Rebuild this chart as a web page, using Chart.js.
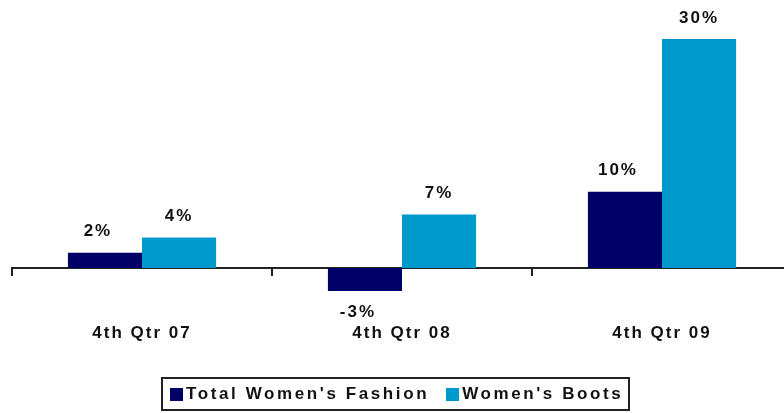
<!DOCTYPE html>
<html>
<head>
<meta charset="utf-8">
<script src="https://cdn.jsdelivr.net/npm/chart.js@4"></script>
<style>
  html, body { margin: 0; padding: 0; background: #fff; overflow: hidden; }
  #wrap { position: relative; width: 792px; height: 413px; }
  #legend {
    position: absolute; left: 161px; top: 377px; width: 469px; height: 34px;
    box-sizing: border-box; border: 2px solid #222;
    display: flex; align-items: center; padding-left: 7px;
    font: bold 17px "Liberation Sans", Arial, sans-serif; letter-spacing: 2.6px; color: #111;
  }
  #legend .box { width: 13px; height: 13px; margin-right: 3px; display: inline-block; }
  #legend .item { display: flex; align-items: center; }
  #legend .item + .item { margin-left: 17px; }
</style>
</head>
<body>
<div id="wrap">
  <canvas id="chart" width="792" height="413"></canvas>
  <div id="legend"></div>
</div>
<script>
const categories = ["4th Qtr 07", "4th Qtr 08", "4th Qtr 09"];
const seriesNames = ["Total Women's Fashion", "Women's Boots"];
const fashion = [2, -3, 10];
const boots = [4, 7, 30];
const colors = ["#000066", "#0099CC"];

const FONT = '"Liberation Sans", Arial, sans-serif';

// labels above / below each bar (first series labels sit a bit left, as in the original)
const valueLabels = {
  id: "valueLabels",
  afterDatasetsDraw(chart) {
    const ctx = chart.ctx;
    ctx.save();
    ctx.letterSpacing = "2px";
    ctx.font = "bold 17px " + FONT;
    ctx.fillStyle = "#111";
    ctx.textAlign = "center";
    ctx.textBaseline = "middle";
    chart.data.datasets.forEach((ds, i) => {
      const shift = i === 0 ? -7 : 0;
      chart.getDatasetMeta(i).data.forEach((bar, j) => {
        const v = ds.data[j];
        const y = v >= 0 ? bar.y - 21 : bar.y + 21;
        ctx.fillText(v + "%", bar.x + shift, y);
      });
    });
    ctx.restore();
  }
};

const spacing = {
  id: "spacing",
  beforeUpdate(chart) { chart.ctx.letterSpacing = "2px"; },
  beforeDraw(chart) { chart.ctx.letterSpacing = "2px"; }
};

const data = {
  labels: categories,
  datasets: [
    { label: seriesNames[0], data: fashion, backgroundColor: colors[0] },
    { label: seriesNames[1], data: boots, backgroundColor: colors[1] }
  ]
};

const config = {
  type: "bar",
  data: data,
  options: {
    responsive: false,
    animation: false,
    layout: { padding: { left: 12, right: 0, top: 20, bottom: 0 } },
    categoryPercentage: 0.57,
    barPercentage: 1.0,
    plugins: {
      legend: { display: false },
      tooltip: { enabled: false }
    },
    scales: {
      y: {
        display: false,
        min: -19,
        max: 32.5
      },
      x: {
        position: { y: 0 },
        border: { display: true, color: "#222", width: 2 },
        grid: {
          offset: true,
          drawOnChartArea: false,
          tickLength: 7,
          color: "#222",
          lineWidth: 2
        },
        ticks: {
          padding: 48,
          color: "#111",
          font: { family: FONT, size: 17, weight: "bold" }
        }
      }
    }
  },
  plugins: [spacing, valueLabels]
};

const myChart = new Chart(document.getElementById("chart"), config);

const legend = document.getElementById("legend");
myChart.data.datasets.forEach(ds => {
  const item = document.createElement("span");
  item.className = "item";
  const box = document.createElement("span");
  box.className = "box";
  box.style.background = ds.backgroundColor;
  item.appendChild(box);
  item.appendChild(document.createTextNode(ds.label));
  legend.appendChild(item);
});
</script>
</body>
</html>
